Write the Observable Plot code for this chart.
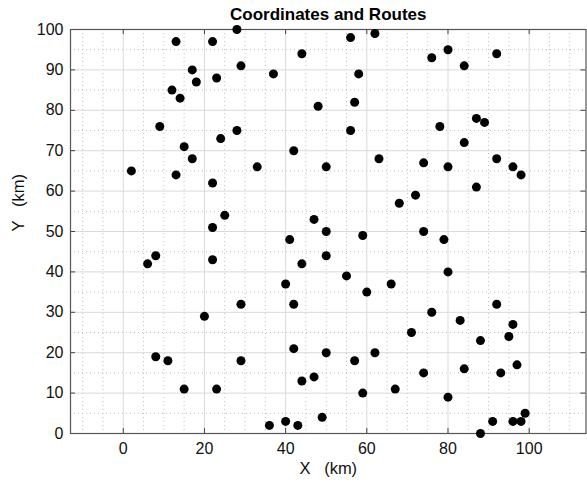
<!DOCTYPE html>
<html>
<head>
<meta charset="utf-8">
<script src="https://cdn.jsdelivr.net/npm/d3@7"></script>
<script src="https://cdn.jsdelivr.net/npm/@observablehq/plot@0.6"></script>
<style>
  html, body { margin: 0; padding: 0; background: #fff; }
  svg { display: block; }
</style>
</head>
<body>
<div id="chart"></div>
<script>
const title = "Coordinates and Routes";
const xLabel = "X   (km)";
const yLabel = "Y   (km)";
const xTicks = [0, 20, 40, 60, 80, 100];
const yTicks = [0, 10, 20, 30, 40, 50, 60, 70, 80, 90, 100];
const xMinor = [-10, -5, 5, 10, 15, 25, 30, 35, 45, 50, 55, 65, 70, 75, 85, 90, 95, 105, 110];
const yMinor = [5, 15, 25, 35, 45, 55, 65, 75, 85, 95];
const xDomain = [-13, 114];
const yDomain = [0, 100];

const xs = [13,22,28,17,29,37,18,23,12,14,9,28,24,15,42,17,33,2,13,22,25,22,41,44,56,62,58,48,57,56,
            50,63,74,80,76,80,84,92,78,87,89,84,92,96,98,87,72,68,47,50,59,74,79,6,8,22,44,40,29,42,
            20,8,11,29,42,44,15,23,36,40,43,50,55,60,66,80,76,92,83,96,71,95,88,50,57,62,74,84,93,97,
            47,59,67,80,49,88,91,96,98,99];
const ys = [97,97,100,90,91,89,87,88,85,83,76,75,73,71,70,68,66,65,64,62,54,51,48,94,98,99,89,81,82,75,
            66,68,67,66,93,95,91,94,76,78,77,72,68,66,64,61,59,57,53,50,49,50,48,42,44,43,42,37,32,32,
            29,19,18,18,21,13,11,11,2,3,2,44,39,35,37,40,30,32,28,27,25,24,23,20,18,20,15,16,15,17,
            14,10,11,9,4,0,3,3,3,5];

const pts = xs.map((x, i) => ({x, y: ys[i]}));
const tickX = 1.25, tickY = 1.25;

const plot = Plot.plot({
  width: 587,
  height: 484,
  marginLeft: 70,
  marginRight: 1.5,
  marginTop: 29,
  marginBottom: 51,
  style: {fontFamily: "'Liberation Sans', Arial, Helvetica, sans-serif", fontSize: "16px", color: "#111", background: "#fff"},
  x: {domain: xDomain, ticks: xTicks, label: null},
  y: {domain: yDomain, ticks: yTicks, label: null},
  marks: [
    Plot.ruleX(xMinor, {stroke: "#bdbdbd", strokeDasharray: "1,3", strokeWidth: 1}),
    Plot.ruleY(yMinor, {stroke: "#bdbdbd", strokeDasharray: "1,3", strokeWidth: 1}),
    Plot.ruleX(xTicks, {stroke: "#dadada", strokeWidth: 1}),
    Plot.ruleY(yTicks, {stroke: "#dadada", strokeWidth: 1}),
    Plot.ruleX(xTicks, {x: d => d, y1: yDomain[0], y2: yDomain[0] + tickY, stroke: "#444"}),
    Plot.ruleX(xTicks, {x: d => d, y1: yDomain[1], y2: yDomain[1] - tickY, stroke: "#444"}),
    Plot.ruleY(yTicks, {y: d => d, x1: xDomain[0], x2: xDomain[0] + tickX, stroke: "#444"}),
    Plot.ruleY(yTicks, {y: d => d, x1: xDomain[1], x2: xDomain[1] - tickX, stroke: "#444"}),
    Plot.frame({stroke: "#555", strokeWidth: 1.2}),
    Plot.axisX({ticks: xTicks, tickSize: 0, tickPadding: 9, label: null, fontSize: 16}),
    Plot.axisY({ticks: yTicks, tickSize: 0, tickPadding: 7, label: null, fontSize: 16}),
    Plot.dot(pts, {x: "x", y: "y", r: 4.5, fill: "#000", stroke: "none"}),
    Plot.text([title], {frameAnchor: "top", lineAnchor: "top", dy: -22, fontWeight: "bold", fontSize: 17, fill: "#000"}),
    Plot.text([xLabel], {frameAnchor: "bottom", dy: 40, fontSize: 16.5, fill: "#111"}),
    Plot.text([yLabel], {frameAnchor: "left", dx: -52, rotate: -90, fontSize: 16.5, fill: "#111"})
  ]
});
document.getElementById("chart").appendChild(plot);
</script>
</body>
</html>
